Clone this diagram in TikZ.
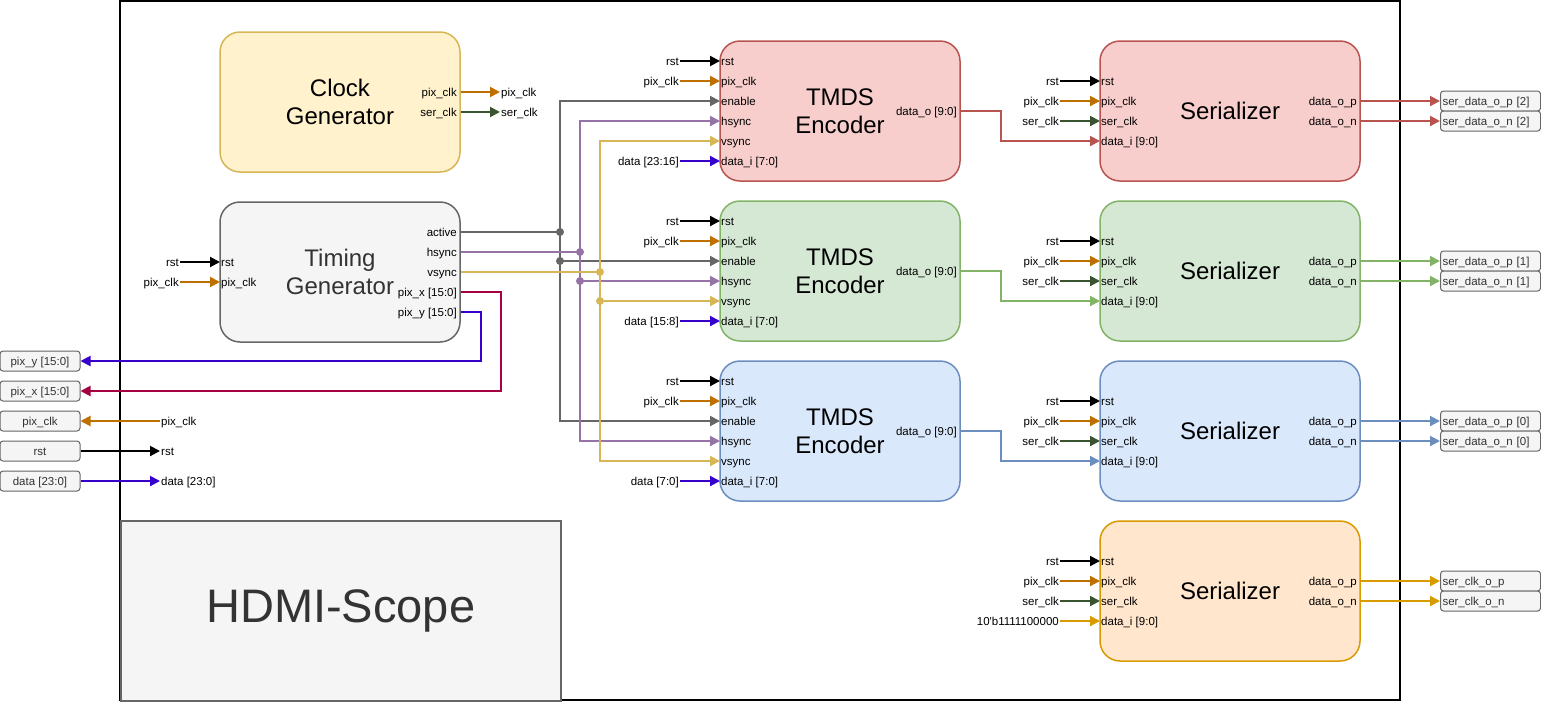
\documentclass[tikz,border=0pt]{standalone}
\usepackage{fontspec}
\setmainfont{Liberation Sans}
\usetikzlibrary{arrows.meta}
\usetikzlibrary{positioning}

\definecolor{yelF}{HTML}{FFF2CC}
\definecolor{yelD}{HTML}{D6B656}
\definecolor{gryF}{HTML}{F5F5F5}
\definecolor{gryD}{HTML}{666666}
\definecolor{redF}{HTML}{F8CECC}
\definecolor{redD}{HTML}{B85450}
\definecolor{grnF}{HTML}{D5E8D4}
\definecolor{grnD}{HTML}{82B366}
\definecolor{bluF}{HTML}{DAE8FC}
\definecolor{bluD}{HTML}{6C8EBF}
\definecolor{orgF}{HTML}{FFE6CC}
\definecolor{orgD}{HTML}{D79B00}
\definecolor{pixclk}{HTML}{BD7000}
\definecolor{serclk}{HTML}{3A5431}
\definecolor{purp}{HTML}{9673A6}
\definecolor{pixx}{HTML}{A50040}
\definecolor{pixy}{HTML}{3700CC}
\definecolor{txtgray}{HTML}{333333}

\begin{document}
\begin{tikzpicture}[x=1pt,y=-1pt,
  lbl/.style={font=\fontsize{11.5}{13}\selectfont,inner sep=1pt,text height=10.5pt,text depth=2.5pt},
  title/.style={font=\fontsize{24}{28}\selectfont,align=center},
  blockbox/.style={rounded corners=20pt,line width=1.5pt,minimum width=240pt,minimum height=140pt,inner sep=0pt},
  wire/.style={line width=2pt},
  arr/.style={wire,-{Triangle[length=10pt,width=10pt]}},
  port/.style={draw=gryD,fill=gryF,rounded corners=3pt,line width=1pt,minimum height=20pt,inner sep=2pt,font=\fontsize{11.5}{13}\selectfont,text=txtgray,text height=10.5pt,text depth=2.5pt},
  junc/.style={circle,inner sep=0pt,minimum size=8pt}]
\useasboundingbox (0,0) rectangle (1541,702);

% frame and scope label
\draw[line width=1.5pt] (120,1) rectangle (1400,700);
\node[draw=gryD,fill=gryF,line width=1.5pt,minimum width=440pt,minimum height=180pt,anchor=north west,text=txtgray,font=\fontsize{47}{56}\selectfont] (scope) at (120,520) {HDMI-Scope};

% clock generator
\node[blockbox,draw=yelD,fill=yelF,title] (clkgen) at (340,102) {Clock\\Generator};
\node[lbl,anchor=east] (cgpix) at (458,92) {pix\_clk};
\node[lbl,anchor=east] (cgser) at (458,112) {ser\_clk};
\node[lbl,right=42pt of cgpix] (cgpixo) {pix\_clk};
\node[lbl,right=42pt of cgser] (cgsero) {ser\_clk};
\draw[arr,pixclk] (clkgen.east |- cgpix) -- (cgpixo.west);
\draw[arr,serclk] (clkgen.east |- cgser) -- (cgsero.west);

% timing generator
\node[blockbox,draw=gryD,fill=gryF,title,text=txtgray] (timgen) at (340,272) {Timing\\Generator};
\node[lbl,anchor=west] (tgrst) at (220,262) {rst};
\node[lbl,anchor=west] (tgclk) at (220,282) {pix\_clk};
\node[lbl,left=40pt of tgrst] (tgrstx) {rst};
\node[lbl,left=40pt of tgclk] (tgclkx) {pix\_clk};
\draw[arr] (tgrstx.east) -- (tgrst.west);
\draw[arr,pixclk] (tgclkx.east) -- (tgclk.west);
\node[lbl,anchor=east] (tgact) at (458,232) {active};
\node[lbl,anchor=east] (tghs) at (458,252) {hsync};
\node[lbl,anchor=east] (tgvs) at (458,272) {vsync};
\node[lbl,anchor=east] (tgpx) at (458,292) {pix\_x [15:0]};
\node[lbl,anchor=east] (tgpy) at (458,312) {pix\_y [15:0]};

% tmds encoders
\node[blockbox,draw=redD,fill=redF,title] (enc1) at (840,111) {TMDS\\Encoder};
\node[blockbox,draw=grnD,fill=grnF,title] (enc2) at (840,271) {TMDS\\Encoder};
\node[blockbox,draw=bluD,fill=bluF,title] (enc3) at (840,431) {TMDS\\Encoder};

\node[lbl,anchor=west] (e1rst) at (720,61) {rst};
\node[lbl,anchor=west] (e1clk) at (720,81) {pix\_clk};
\node[lbl,anchor=west] (e1en) at (720,101) {enable};
\node[lbl,anchor=west] (e1hs) at (720,121) {hsync};
\node[lbl,anchor=west] (e1vs) at (720,141) {vsync};
\node[lbl,anchor=west] (e1d) at (720,161) {data\_i [7:0]};
\node[lbl,anchor=east] (e1o) at (958,111) {data\_o [9:0]};
\node[lbl,left=40pt of e1rst] (e1rstx) {rst};
\node[lbl,left=40pt of e1clk] (e1clkx) {pix\_clk};
\node[lbl,left=40pt of e1d] (e1dx) {data [23:16]};
\draw[arr] (e1rstx.east) -- (e1rst.west);
\draw[arr,pixclk] (e1clkx.east) -- (e1clk.west);
\draw[arr,pixy] (e1dx.east) -- (e1d.west);

\node[lbl,anchor=west] (e2rst) at (720,221) {rst};
\node[lbl,anchor=west] (e2clk) at (720,241) {pix\_clk};
\node[lbl,anchor=west] (e2en) at (720,261) {enable};
\node[lbl,anchor=west] (e2hs) at (720,281) {hsync};
\node[lbl,anchor=west] (e2vs) at (720,301) {vsync};
\node[lbl,anchor=west] (e2d) at (720,321) {data\_i [7:0]};
\node[lbl,anchor=east] (e2o) at (958,271) {data\_o [9:0]};
\node[lbl,left=40pt of e2rst] (e2rstx) {rst};
\node[lbl,left=40pt of e2clk] (e2clkx) {pix\_clk};
\node[lbl,left=40pt of e2d] (e2dx) {data [15:8]};
\draw[arr] (e2rstx.east) -- (e2rst.west);
\draw[arr,pixclk] (e2clkx.east) -- (e2clk.west);
\draw[arr,pixy] (e2dx.east) -- (e2d.west);

\node[lbl,anchor=west] (e3rst) at (720,381) {rst};
\node[lbl,anchor=west] (e3clk) at (720,401) {pix\_clk};
\node[lbl,anchor=west] (e3en) at (720,421) {enable};
\node[lbl,anchor=west] (e3hs) at (720,441) {hsync};
\node[lbl,anchor=west] (e3vs) at (720,461) {vsync};
\node[lbl,anchor=west] (e3d) at (720,481) {data\_i [7:0]};
\node[lbl,anchor=east] (e3o) at (958,431) {data\_o [9:0]};
\node[lbl,left=40pt of e3rst] (e3rstx) {rst};
\node[lbl,left=40pt of e3clk] (e3clkx) {pix\_clk};
\node[lbl,left=40pt of e3d] (e3dx) {data [7:0]};
\draw[arr] (e3rstx.east) -- (e3rst.west);
\draw[arr,pixclk] (e3clkx.east) -- (e3clk.west);
\draw[arr,pixy] (e3dx.east) -- (e3d.west);

% control buses
\coordinate (jact) at (560,232);
\coordinate (jhs) at (580,252);
\coordinate (jvs) at (600,272);
\draw[wire,gryD] (timgen.east |- tgact) -- (jact);
\draw[arr,gryD] (jact) |- (e1en.west);
\draw[arr,gryD] (jact) |- (e3en.west);
\draw[arr,gryD] (jact |- e2en) -- (e2en.west);
\draw[wire,purp] (timgen.east |- tghs) -- (jhs);
\draw[arr,purp] (jhs) |- (e1hs.west);
\draw[arr,purp] (jhs) |- (e3hs.west);
\draw[arr,purp] (jhs |- e2hs) -- (e2hs.west);
\draw[wire,yelD] (timgen.east |- tgvs) -- (jvs);
\draw[arr,yelD] (jvs) |- (e1vs.west);
\draw[arr,yelD] (jvs) |- (e3vs.west);
\draw[arr,yelD] (jvs |- e2vs) -- (e2vs.west);
\node[junc,fill=gryD] (dact) at (jact) {};
\node[junc,fill=gryD] (den) at (jact |- e2en) {};
\node[junc,fill=purp] (dhs) at (jhs) {};
\node[junc,fill=purp] (dhs2) at (jhs |- e2hs) {};
\node[junc,fill=yelD] (dvs) at (jvs) {};
\node[junc,fill=yelD] (dvs2) at (jvs |- e2vs) {};

% serializers
\node[blockbox,minimum width=260pt,draw=redD,fill=redF,title] (ser1) at (1230,111) {Serializer};
\node[blockbox,minimum width=260pt,draw=grnD,fill=grnF,title] (ser2) at (1230,271) {Serializer};
\node[blockbox,minimum width=260pt,draw=bluD,fill=bluF,title] (ser3) at (1230,431) {Serializer};
\node[blockbox,minimum width=260pt,draw=orgD,fill=orgF,title] (ser4) at (1230,591) {Serializer};

\node[lbl,anchor=west] (s1rst) at (1100,81) {rst};
\node[lbl,anchor=west] (s1clk) at (1100,101) {pix\_clk};
\node[lbl,anchor=west] (s1ser) at (1100,121) {ser\_clk};
\node[lbl,anchor=west] (s1d) at (1100,141) {data\_i [9:0]};
\node[lbl,anchor=east] (s1p) at (1358,101) {data\_o\_p};
\node[lbl,anchor=east] (s1n) at (1358,121) {data\_o\_n};
\node[lbl,left=40pt of s1rst] (s1rstx) {rst};
\node[lbl,left=40pt of s1clk] (s1clkx) {pix\_clk};
\node[lbl,left=40pt of s1ser] (s1serx) {ser\_clk};
\draw[arr] (s1rstx.east) -- (s1rst.west);
\draw[arr,pixclk] (s1clkx.east) -- (s1clk.west);
\draw[arr,serclk] (s1serx.east) -- (s1ser.west);

\node[lbl,anchor=west] (s2rst) at (1100,241) {rst};
\node[lbl,anchor=west] (s2clk) at (1100,261) {pix\_clk};
\node[lbl,anchor=west] (s2ser) at (1100,281) {ser\_clk};
\node[lbl,anchor=west] (s2d) at (1100,301) {data\_i [9:0]};
\node[lbl,anchor=east] (s2p) at (1358,261) {data\_o\_p};
\node[lbl,anchor=east] (s2n) at (1358,281) {data\_o\_n};
\node[lbl,left=40pt of s2rst] (s2rstx) {rst};
\node[lbl,left=40pt of s2clk] (s2clkx) {pix\_clk};
\node[lbl,left=40pt of s2ser] (s2serx) {ser\_clk};
\draw[arr] (s2rstx.east) -- (s2rst.west);
\draw[arr,pixclk] (s2clkx.east) -- (s2clk.west);
\draw[arr,serclk] (s2serx.east) -- (s2ser.west);

\node[lbl,anchor=west] (s3rst) at (1100,401) {rst};
\node[lbl,anchor=west] (s3clk) at (1100,421) {pix\_clk};
\node[lbl,anchor=west] (s3ser) at (1100,441) {ser\_clk};
\node[lbl,anchor=west] (s3d) at (1100,461) {data\_i [9:0]};
\node[lbl,anchor=east] (s3p) at (1358,421) {data\_o\_p};
\node[lbl,anchor=east] (s3n) at (1358,441) {data\_o\_n};
\node[lbl,left=40pt of s3rst] (s3rstx) {rst};
\node[lbl,left=40pt of s3clk] (s3clkx) {pix\_clk};
\node[lbl,left=40pt of s3ser] (s3serx) {ser\_clk};
\draw[arr] (s3rstx.east) -- (s3rst.west);
\draw[arr,pixclk] (s3clkx.east) -- (s3clk.west);
\draw[arr,serclk] (s3serx.east) -- (s3ser.west);

\node[lbl,anchor=west] (s4rst) at (1100,561) {rst};
\node[lbl,anchor=west] (s4clk) at (1100,581) {pix\_clk};
\node[lbl,anchor=west] (s4ser) at (1100,601) {ser\_clk};
\node[lbl,anchor=west] (s4d) at (1100,621) {data\_i [9:0]};
\node[lbl,anchor=east] (s4p) at (1358,581) {data\_o\_p};
\node[lbl,anchor=east] (s4n) at (1358,601) {data\_o\_n};
\node[lbl,left=40pt of s4rst] (s4rstx) {rst};
\node[lbl,left=40pt of s4clk] (s4clkx) {pix\_clk};
\node[lbl,left=40pt of s4ser] (s4serx) {ser\_clk};
\node[lbl,left=40pt of s4d] (s4dx) {10\textquotesingle b1111100000};
\draw[arr] (s4rstx.east) -- (s4rst.west);
\draw[arr,pixclk] (s4clkx.east) -- (s4clk.west);
\draw[arr,serclk] (s4serx.east) -- (s4ser.west);
\draw[arr,orgD] (s4dx.east) -- (s4d.west);

% encoder to serializer
\draw[arr,redD] (enc1.east) -- ++(40,0) |- (s1d.west);
\draw[arr,grnD] (enc2.east) -- ++(40,0) |- (s2d.west);
\draw[arr,bluD] (enc3.east) -- ++(40,0) |- (s3d.west);

% output ports
\node[port,anchor=west,text width=96pt,align=left] (o2p) at (1440,101) {ser\_data\_o\_p [2]};
\node[port,anchor=west,text width=96pt,align=left] (o2n) at (1440,121) {ser\_data\_o\_n [2]};
\node[port,anchor=west,text width=96pt,align=left] (o1p) at (1440,261) {ser\_data\_o\_p [1]};
\node[port,anchor=west,text width=96pt,align=left] (o1n) at (1440,281) {ser\_data\_o\_n [1]};
\node[port,anchor=west,text width=96pt,align=left] (o0p) at (1440,421) {ser\_data\_o\_p [0]};
\node[port,anchor=west,text width=96pt,align=left] (o0n) at (1440,441) {ser\_data\_o\_n [0]};
\node[port,anchor=west,text width=96pt,align=left] (ocp) at (1440,581) {ser\_clk\_o\_p};
\node[port,anchor=west,text width=96pt,align=left] (ocn) at (1440,601) {ser\_clk\_o\_n};
\draw[arr,redD] (ser1.east |- s1p) -- (o2p.west);
\draw[arr,redD] (ser1.east |- s1n) -- (o2n.west);
\draw[arr,grnD] (ser2.east |- s2p) -- (o1p.west);
\draw[arr,grnD] (ser2.east |- s2n) -- (o1n.west);
\draw[arr,bluD] (ser3.east |- s3p) -- (o0p.west);
\draw[arr,bluD] (ser3.east |- s3n) -- (o0n.west);
\draw[arr,orgD] (ser4.east |- s4p) -- (ocp.west);
\draw[arr,orgD] (ser4.east |- s4n) -- (ocn.west);

% input ports
\node[port,minimum width=80pt] (lpy) at (40,361) {pix\_y [15:0]};
\node[port,minimum width=80pt] (lpx) at (40,391) {pix\_x [15:0]};
\node[port,minimum width=80pt] (lpclk) at (40,421) {pix\_clk};
\node[port,minimum width=80pt] (lprst) at (40,451) {rst};
\node[port,minimum width=80pt] (lpdat) at (40,481) {data [23:0]};
\node[lbl,anchor=west] (clkin) at (160,421) {pix\_clk};
\node[lbl,anchor=west] (rstin) at (160,451) {rst};
\node[lbl,anchor=west] (datin) at (160,481) {data [23:0]};
\draw[arr,pixclk] (clkin.west) -- (lpclk.east);
\draw[arr] (lprst.east) -- (rstin.west);
\draw[arr,pixy] (lpdat.east) -- (datin.west);
\draw[arr,pixy] (timgen.east |- tgpy) -- ++(20,0) |- (lpy.east);
\draw[arr,pixx] (timgen.east |- tgpx) -- ++(40,0) |- (lpx.east);

\end{tikzpicture}
\end{document}
